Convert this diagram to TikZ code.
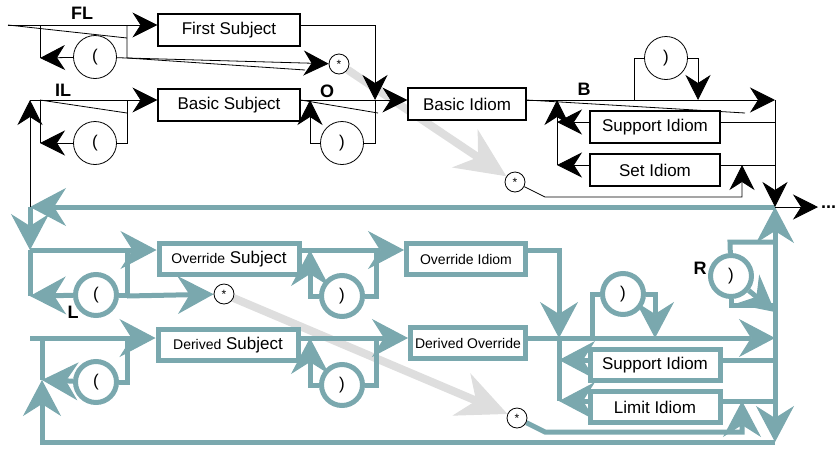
\documentclass[tikz,border=0pt]{standalone}
\usepackage{fontspec}
\setmainfont{Liberation Sans}
\usetikzlibrary{arrows.meta,backgrounds}

\definecolor{flow}{RGB}{122,168,174}
\definecolor{hint}{RGB}{222,222,222}

\newcommand\nar[1]{{\fontsize{14}{16}\selectfont #1}}

\tikzset{
  rule/.style={line width=0.8pt},
  trule/.style={draw=flow, line width=5pt},
  term/.style={draw, line width=1.1pt, fill=white, inner sep=0pt,
    minimum height=32pt, font=\fontsize{17}{19}\selectfont},
  tterm/.style={term, draw=flow, line width=5pt, minimum height=31pt},
  paren/.style={circle, draw, line width=0.8pt, fill=white, inner sep=0pt,
    minimum size=43pt, font=\fontsize{17}{19}\selectfont},
  tparen/.style={paren, draw=flow, line width=5pt, minimum size=41pt},
  star/.style={circle, draw, line width=0.8pt, fill=white, inner sep=0pt,
    minimum size=20pt, font=\fontsize{12}{12}\selectfont},
  tag/.style={font=\fontsize{18}{18}\selectfont\bfseries},
  barr/.style={-{Stealth[length=25pt,width=25pt,inset=8pt]}},
  tarr/.style={-{Stealth[length=36pt,width=38pt,inset=12pt,line width=1pt]}},
  hop/.style={draw=hint, line width=8pt,
    -{Stealth[length=50pt,width=46pt,inset=16pt,line width=1pt]}}
}

\begin{document}
\begin{tikzpicture}[x=1pt, y=-1pt, line join=miter]
\useasboundingbox (0,0) rectangle (838,448);

% black terms
\node [term, minimum width=142pt] (fs) at (229,30) {First Subject};
\node [term, minimum width=142pt] (bs) at (229,105) {Basic Subject};
\node [term, minimum width=118pt] (bi) at (467,104) {Basic Idiom};
\node [term, minimum width=130pt] (si) at (655,127) {Support Idiom};
\node [term, minimum width=130pt] (se) at (655,170) {Set Idiom};
\node [paren] (fo) at (95,57) {(};
\node [paren] (io) at (95,143) {(};
\node [paren] (oc) at (342,143) {)};
\node [paren] (bc) at (666,58) {)};
\node [star] (fstar) at (339,64) {*};
\node [star] (bstar) at (515,182) {*};

% teal terms
\node [tterm, minimum width=140pt] (os) at (229,259) {\nar{Override} Subject};
\node [tterm, minimum width=119pt] (oi) at (466,259) {\nar{Override Idiom}};
\node [tterm, minimum width=140pt] (ds) at (228,345) {\nar{Derived} Subject};
\node [tterm, minimum width=115pt] (dov) at (468,343) {\nar{Derived Override}};
\node [tterm, minimum width=130pt] (ts) at (655,365) {Support Idiom};
\node [tterm, minimum width=130pt] (tl) at (655,407) {Limit Idiom};
\node [tparen] (lo) at (96,295) {(};
\node [tparen] (lc) at (342,296) {)};
\node [tparen] (dop) at (96,382) {(};
\node [tparen] (dc) at (342,385) {)};
\node [tparen] (tc) at (623,294) {)};
\node [tparen] (rc) at (731,276) {)};
\node [star] (lstar) at (224,294) {*};
\node [star] (dstar) at (517,418) {*};

% labels
\node [tag] (fl) at (82,13) {FL};
\node [tag] (il) at (63,90) {IL};
\node [tag] (ol) at (327,91) {O};
\node [tag] (bl) at (584,89) {B};
\node [tag] (ll) at (73,312) {L};
\node [tag] (rl) at (700,268) {R};
\node [tag, anchor=west, inner sep=0pt] (more) at (821,207) {...};

% junctions
\coordinate (in) at (8,25);
\coordinate (f1) at (40,25);
\coordinate (f2) at (127,25);
\coordinate (f3) at (40,58);
\coordinate (f4) at (127,58);
\coordinate (f6) at (127,38);
\coordinate (f7) at (305,70);
\coordinate (j1) at (375,100);
\coordinate (i0) at (30,207);
\coordinate (i1) at (30,100);
\coordinate (i2) at (40,100);
\coordinate (i3) at (127,100);
\coordinate (i4) at (40,143);
\coordinate (i6) at (127,113);
\coordinate (o1) at (310,100);
\coordinate (o4) at (378,113);
\coordinate (b1) at (557,100);
\coordinate (b2) at (634,100);
\coordinate (b5) at (698,100);
\coordinate (b6) at (775,100);
\coordinate (b7) at (557,165);
\coordinate (b8) at (775,207);
\coordinate (b10) at (745,113);
\coordinate (b11) at (557,122);
\coordinate (b12) at (545,197);
\coordinate (b13) at (742,165);
\coordinate (ex) at (818,207);
\coordinate (t1) at (30,250);
\coordinate (t2) at (127,250);
\coordinate (t3) at (30,296);
\coordinate (t4) at (127,296);
\coordinate (u1) at (310,250);
\coordinate (u2) at (376,250);
\coordinate (u3) at (559,338);
\coordinate (v0) at (30,338);
\coordinate (v1) at (42,338);
\coordinate (v2) at (42,380);
\coordinate (v4) at (127,338);
\coordinate (w1) at (310,338);
\coordinate (w2) at (376,338);
\coordinate (z1) at (775,338);
\coordinate (z2) at (592,338);
\coordinate (z3) at (655,338);
\coordinate (z4) at (559,401);
\coordinate (z5) at (559,360);
\coordinate (z6) at (775,442);
\coordinate (r1) at (730,242);
\coordinate (r2) at (775,242);
\coordinate (r4) at (775,305);
\coordinate (r5) at (775,312);
\coordinate (y1) at (545,432);
\coordinate (y2) at (742,401);

\begin{scope}[on background layer]
% skip hints
\draw [hop] (fstar) -- (bstar);
\draw [hop] (lstar) -- (dstar);

% teal rows
\draw [trule, tarr] (b8) -- (i0);
\draw [trule, tarr] (i0) -- (t1);
\draw [trule, tarr] (t1) -- (os.west |- t1);
\draw [trule] (t1) -- (t3);
\draw [trule, tarr] (lo) -- (t3);
\draw [trule] (lo) -| (t2);
\draw [trule, tarr] (t4) -- (lstar);
\draw [trule] (os.east |- t1) -- (u2);
\draw [trule, tarr] (u2) -- (oi.west |- u2);
\draw [trule, tarr] (lc) -| (u1);
\draw [trule] (lc) -| (u2);
\draw [trule, tarr] (oi.east |- t1) -| (u3);

\draw [trule, tarr] (v0) -- (ds.west |- v0);
\draw [trule] (v1) -- (v2);
\draw [trule, tarr] (dop) -- (v2);
\draw [trule] (dop) -| (v4);
\draw [trule, tarr] (z6) -| (v2);
\draw [trule] (ds.east |- v0) -- (w2);
\draw [trule, tarr] (w2) -- (dov.west |- w2);
\draw [trule, tarr] (dc) -| (w1);
\draw [trule] (dc) -| (w2);
\draw [trule, tarr] (dov.east |- v0) -- (z1);
\draw [trule] (z2) |- (tc);
\draw [trule, tarr] (tc) -| (z3);
\draw [trule] (u3) -- (z4);
\draw [trule, tarr] (ts.west |- z5) -- (z5);
\draw [trule, tarr] (tl.west |- z4) -- (z4);
\draw [trule] (ts.east |- z5) -- (z5 -| z1);
\draw [trule] (tl.east |- z4) -- (z4 -| z1);
\draw [trule, tarr] (z1) -- (b8);
\draw [trule, tarr] (z1) -- (z6);
\draw [trule] (r2) -- (r1) -- (rc);
\draw [trule] (rc) |- (r4);
\draw [trule, tarr] (rc) -- (r5);
\draw [trule, tarr] (dstar) -- (y1) -| (y2);

% black rows
\draw [rule, barr] (in) -- (fs.west |- in);
\draw [rule] (in) -- (f6);
\draw [rule] (f1) -- (f3);
\draw [rule, barr] (fo) -- (f3);
\draw [rule] (fo) -- (f4) -- (f2);
\draw [rule, barr] (f4) -- (fstar);
\draw [rule] (f4) -- (f7);
\draw [rule, barr] (fs.east |- in) -| (j1);

\draw [rule, barr] (i0) -- (i1);
\draw [rule, barr] (i1) -- (bs.west |- i1);
\draw [rule] (i2) -- (i6);
\draw [rule] (i2) -- (i4);
\draw [rule, barr] (io) -- (i4);
\draw [rule] (io) -| (i3);
\draw [rule] (bs.east |- i1) -- (j1);
\draw [rule] (bs.east |- i1) -- (o4);
\draw [rule, barr] (j1) -- (bi.west |- j1);
\draw [rule, barr] (oc) -| (o1);
\draw [rule] (oc) -| (j1);

\draw [rule, barr] (bi.east |- j1) -- (b6);
\draw [rule] (bi.east |- j1) -- (b10);
\draw [rule] (b2) |- (bc);
\draw [rule, barr] (bc) -| (b5);
\draw [rule, barr] (b7) -- (b1);
\draw [rule, barr] (si.west |- b11) -- (b11);
\draw [rule, barr] (se.west |- b7) -- (b7);
\draw [rule] (si.east |- b11) -- (b11 -| b6);
\draw [rule] (se.east |- b7) -- (b7 -| b6);
\draw [rule, barr] (bstar) -- (b12) -| (b13);
\draw [rule, barr] (b6) -- (b8);
\draw [rule, barr] (b8) -- (ex);
\end{scope}

\end{tikzpicture}
\end{document}
